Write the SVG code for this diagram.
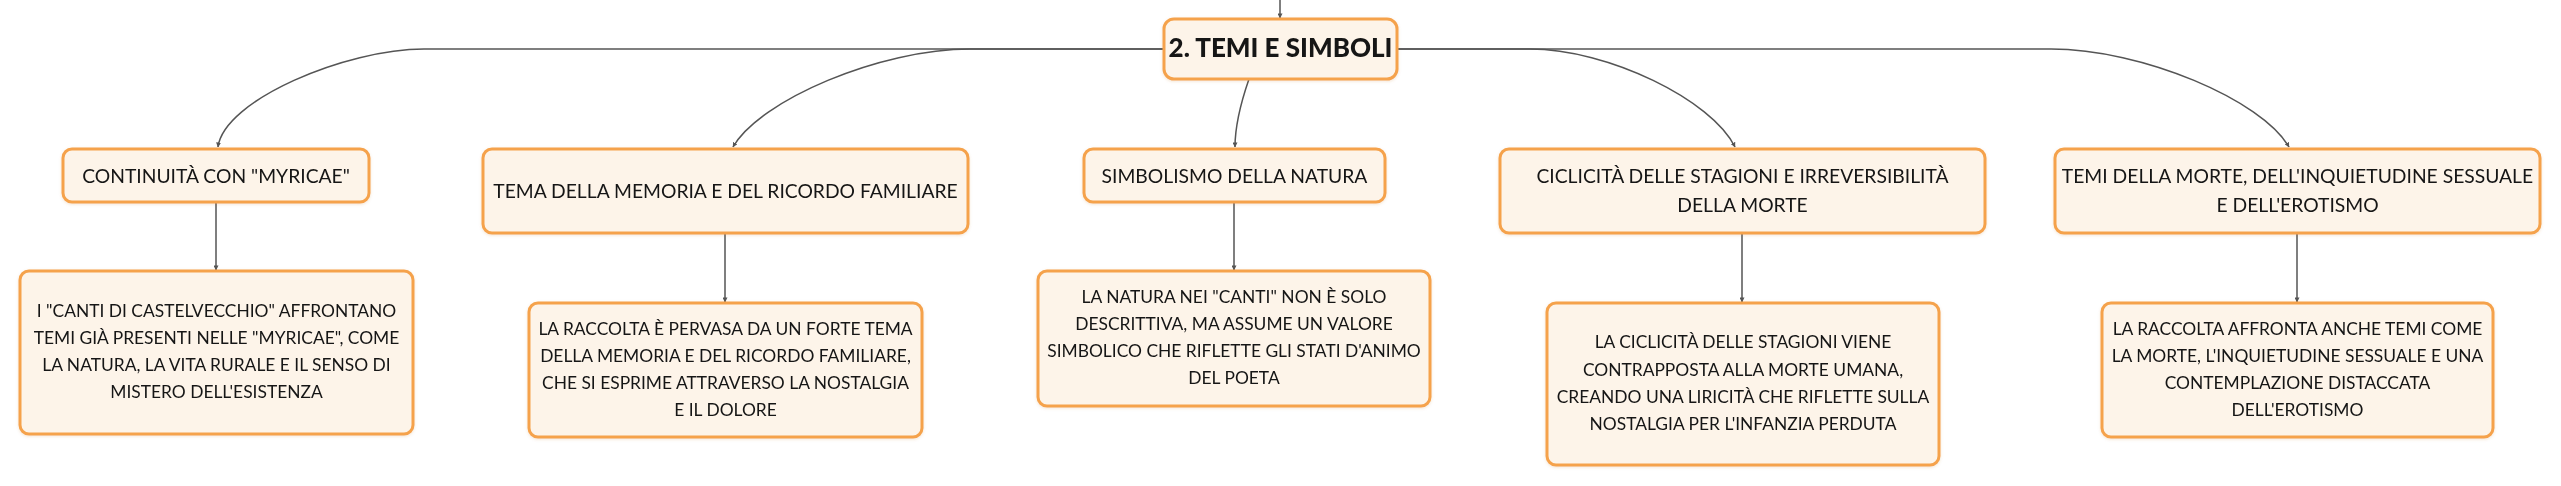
<svg xmlns="http://www.w3.org/2000/svg" width="2561" height="486" viewBox="0 0 2561 486">
<style>
.box{fill:#FDF4E9;stroke:#F5A24C;stroke-width:3}
.t{font-family:Lato,"Noto Sans","Liberation Sans",sans-serif;fill:#151515;text-anchor:middle}
.cat{font-size:19.3px}
.desc{font-size:17.4px}
.root{font-size:26px;font-weight:900}
.ln{fill:none;stroke:#555;stroke-width:1.5;marker-end:url(#ah)}
</style>
<defs>
<marker id="ah" viewBox="0 0 6 6" refX="5.5" refY="3" markerWidth="5" markerHeight="5" orient="auto" markerUnits="userSpaceOnUse">
<path d="M0,0 L6,3 L0,6 z" fill="#555"/>
</marker>
<filter id="sh" x="-5%" y="-10%" width="110%" height="125%">
<feDropShadow dx="0" dy="1" stdDeviation="1.5" flood-color="#C07020" flood-opacity="0.18"/>
</filter>
</defs>
<rect width="2561" height="486" fill="#ffffff"/>
<g id="connectors">
<path class="ln" d="M1280,0 L1280,18"/>
<path class="ln" d="M1164,49 L424,49 C346,49 224,100 218,147"/>
<path class="ln" d="M1164,49 L970,49 C880,49 760,100 733,147"/>
<path class="ln" d="M1249,79 C1240,105 1235,125 1235,147"/>
<path class="ln" d="M1397,49 L1530,49 C1608,49 1712,100 1735,147"/>
<path class="ln" d="M1397,49 L2051,49 C2142,49 2262,100 2289,147"/>
<path class="ln" d="M216,202 L216,270"/>
<path class="ln" d="M725,233 L725,302"/>
<path class="ln" d="M1234,202 L1234,270"/>
<path class="ln" d="M1742,233 L1742,302"/>
<path class="ln" d="M2297,233 L2297,302"/>
</g>
<g id="root" filter="url(#sh)">
<rect class="box" x="1164" y="19" width="233" height="60" rx="10"/>
<text class="t root" x="1280.5" y="57">2. TEMI E SIMBOLI</text>
</g>
<g id="n1" filter="url(#sh)">
<rect class="box" x="63" y="149" width="306" height="53" rx="9"/>
<text class="t cat" x="216" y="183">CONTINUITÀ CON "MYRICAE"</text>
</g>
<g id="n2" filter="url(#sh)">
<rect class="box" x="483" y="149" width="485" height="84" rx="9"/>
<text class="t cat" x="725.5" y="198">TEMA DELLA MEMORIA E DEL RICORDO FAMILIARE</text>
</g>
<g id="n3" filter="url(#sh)">
<rect class="box" x="1084" y="149" width="301" height="53" rx="9"/>
<text class="t cat" x="1234.5" y="183">SIMBOLISMO DELLA NATURA</text>
</g>
<g id="n4" filter="url(#sh)">
<rect class="box" x="1500" y="149" width="485" height="84" rx="9"/>
<text class="t cat" x="1742.5" y="183">CICLICITÀ DELLE STAGIONI E IRREVERSIBILITÀ</text>
<text class="t cat" x="1742.5" y="212">DELLA MORTE</text>
</g>
<g id="n5" filter="url(#sh)">
<rect class="box" x="2055" y="149" width="485" height="84" rx="9"/>
<text class="t cat" x="2297.5" y="183">TEMI DELLA MORTE, DELL'INQUIETUDINE SESSUALE</text>
<text class="t cat" x="2297.5" y="212">E DELL'EROTISMO</text>
</g>
<g id="c1" filter="url(#sh)">
<rect class="box" x="20" y="271" width="393" height="163" rx="9"/>
<text class="t desc" x="216.5" y="317">I "CANTI DI CASTELVECCHIO" AFFRONTANO</text>
<text class="t desc" x="216.5" y="344">TEMI GIÀ PRESENTI NELLE "MYRICAE", COME</text>
<text class="t desc" x="216.5" y="371">LA NATURA, LA VITA RURALE E IL SENSO DI</text>
<text class="t desc" x="216.5" y="398">MISTERO DELL'ESISTENZA</text>
</g>
<g id="c2" filter="url(#sh)">
<rect class="box" x="529" y="303" width="393" height="134" rx="9"/>
<text class="t desc" x="725.5" y="335">LA RACCOLTA È PERVASA DA UN FORTE TEMA</text>
<text class="t desc" x="725.5" y="362">DELLA MEMORIA E DEL RICORDO FAMILIARE,</text>
<text class="t desc" x="725.5" y="389">CHE SI ESPRIME ATTRAVERSO LA NOSTALGIA</text>
<text class="t desc" x="725.5" y="416">E IL DOLORE</text>
</g>
<g id="c3" filter="url(#sh)">
<rect class="box" x="1038" y="271" width="392" height="135" rx="9"/>
<text class="t desc" x="1234" y="303">LA NATURA NEI "CANTI" NON È SOLO</text>
<text class="t desc" x="1234" y="330">DESCRITTIVA, MA ASSUME UN VALORE</text>
<text class="t desc" x="1234" y="357">SIMBOLICO CHE RIFLETTE GLI STATI D'ANIMO</text>
<text class="t desc" x="1234" y="384">DEL POETA</text>
</g>
<g id="c4" filter="url(#sh)">
<rect class="box" x="1547" y="303" width="392" height="162" rx="9"/>
<text class="t desc" x="1743" y="348">LA CICLICITÀ DELLE STAGIONI VIENE</text>
<text class="t desc" x="1743" y="376">CONTRAPPOSTA ALLA MORTE UMANA,</text>
<text class="t desc" x="1743" y="403">CREANDO UNA LIRICITÀ CHE RIFLETTE SULLA</text>
<text class="t desc" x="1743" y="430">NOSTALGIA PER L'INFANZIA PERDUTA</text>
</g>
<g id="c5" filter="url(#sh)">
<rect class="box" x="2102" y="303" width="391" height="134" rx="9"/>
<text class="t desc" x="2297.5" y="335">LA RACCOLTA AFFRONTA ANCHE TEMI COME</text>
<text class="t desc" x="2297.5" y="362">LA MORTE, L'INQUIETUDINE SESSUALE E UNA</text>
<text class="t desc" x="2297.5" y="389">CONTEMPLAZIONE DISTACCATA</text>
<text class="t desc" x="2297.5" y="416">DELL'EROTISMO</text>
</g>
</svg>
